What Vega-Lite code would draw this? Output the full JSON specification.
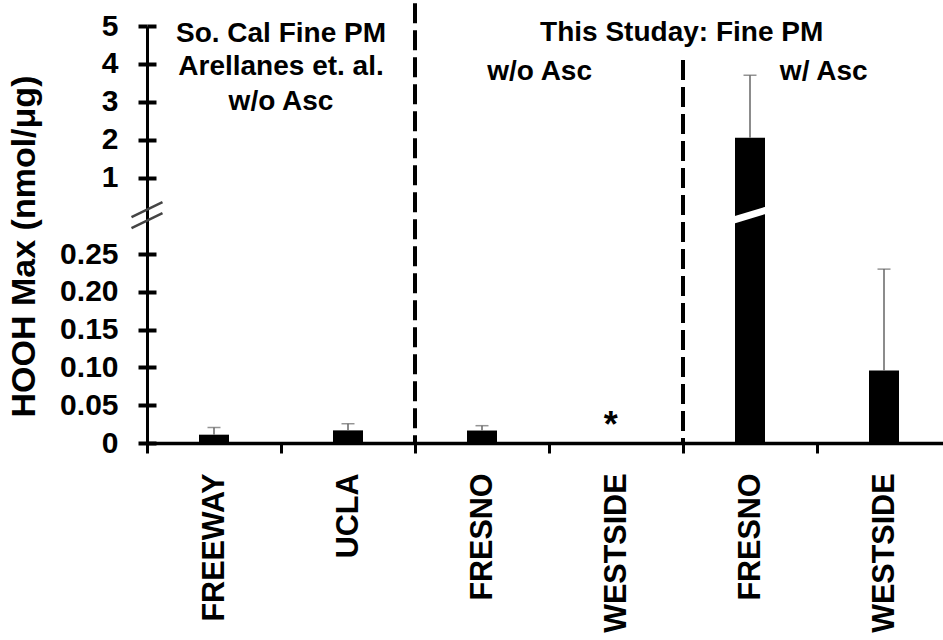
{
  "$schema": "https://vega.github.io/schema/vega-lite/v6.json",
  "width": 796,
  "height": 417,
  "autosize": {"type": "none"},
  "padding": {"left": 147, "top": 26, "right": 0, "bottom": 197},
  "background": "white",
  "config": {"view": {"stroke": null}, "font": "Liberation Sans"},
  "datasets": {
    "bars": [
      {"cat": "FREEWAY|a", "val": 0.011, "err": 0.0205},
      {"cat": "UCLA|a", "val": 0.0167, "err": 0.0255},
      {"cat": "FRESNO|b", "val": 0.0165, "err": 0.0229},
      {"cat": "WESTSIDE|b", "val": 0, "err": null},
      {"cat": "FRESNO|c", "val": 2.05, "err": 3.7},
      {"cat": "WESTSIDE|c", "val": 0.096, "err": 0.23}
    ],
    "notes": [
      {"label": "So. Cal Fine PM", "x": 1.0, "y": 4.58},
      {"label": "Arellanes et. al.", "x": 1.0, "y": 3.7},
      {"label": "w/o Asc", "x": 1.0, "y": 2.775},
      {"label": "This Studay: Fine PM", "x": 3.99, "y": 4.6},
      {"label": "w/o Asc", "x": 2.93, "y": 3.57},
      {"label": "w/ Asc", "x": 5.05, "y": 3.57}
    ],
    "star": [{"label": "*", "x": 3.46, "y": 0.0083}],
    "dividers": [
      {"x": 2, "top": 5.6, "bottom": 0},
      {"x": 4, "top": 4.1, "bottom": 0}
    ],
    "barbreak": [{"cat": "FRESNO|c", "y": 0.632}],
    "axisbreak": [{"x": 0, "y": 0.632}]
  },
  "resolve": {"scale": {"x": "independent"}, "axis": {"x": "independent", "y": "independent"}},
  "layer": [
    {
      "data": {"name": "bars"},
      "mark": {"type": "bar", "color": "black", "width": 30},
      "encoding": {
        "x": {
          "field": "cat", "type": "nominal",
          "scale": {"type": "band", "domain": ["FREEWAY|a", "UCLA|a", "FRESNO|b", "WESTSIDE|b", "FRESNO|c", "WESTSIDE|c"], "range": [0, 804], "paddingInner": 0, "paddingOuter": 0},
          "axis": {
            "title": null,
            "labelExpr": "isValid(datum.value) ? split(datum.value, '|')[0] : ''",
            "labelAngle": -90,
            "labelFont": "Liberation Sans",
            "labelFontWeight": "bold",
            "labelFontSize": 30.5,
            "labelColor": "black",
            "labelPadding": 20,
            "tickSize": 10,
            "tickWidth": 3,
            "tickColor": "black",
            "tickBand": "extent",
            "domainColor": "black",
            "domainWidth": 3.5,
            "grid": false
          }
        },
        "y": {
          "field": "val", "type": "quantitative",
          "scale": {"domain": [0, 0.25, 1, 5], "range": [417, 228, 151.5, 0], "nice": false, "zero": false},
          "axis": {
            "title": "HOOH Max (nmol/μg)",
            "values": [0, 0.05, 0.1, 0.15, 0.2, 0.25, 1, 2, 3, 4, 5],
            "labelExpr": "datum.value == 0 ? '0' : (datum.value < 0.5 ? format(datum.value, '.2f') : format(datum.value, 'd'))",
            "labelFont": "Liberation Sans",
            "labelFontWeight": "bold",
            "labelFontSize": 30,
            "labelColor": "black",
            "labelPadding": 20,
            "labelOverlap": false,
            "labelBound": false,
            "labelFlush": false,
            "tickSize": 9,
            "tickWidth": 4,
            "tickColor": "black",
            "domainColor": "black",
            "domainWidth": 3,
            "grid": false,
            "titleFont": "Liberation Sans",
            "titleFontWeight": "bold",
            "titleFontSize": 34,
            "titleColor": "black",
            "titleAngle": -90,
            "titleX": -123,
            "titleY": 220,
            "titleAlign": "center",
            "titleBaseline": "middle"
          }
        }
      }
    },
    {
      "data": {"name": "bars"},
      "transform": [{"filter": "datum.err != null"}],
      "mark": {"type": "rule", "color": "#666666", "strokeWidth": 1.5},
      "encoding": {
        "x": {
          "field": "cat", "type": "nominal",
          "scale": {"type": "band", "domain": ["FREEWAY|a", "UCLA|a", "FRESNO|b", "WESTSIDE|b", "FRESNO|c", "WESTSIDE|c"], "range": [0, 804], "paddingInner": 0, "paddingOuter": 0},
          "axis": null
        },
        "y": {
          "field": "val", "type": "quantitative",
          "scale": {"domain": [0, 0.25, 1, 5], "range": [417, 228, 151.5, 0], "nice": false, "zero": false},
          "axis": {
            "orient": "left",
            "values": [0, 0.05, 0.1, 0.15, 0.2, 0.25, 1, 2, 3, 4, 5],
            "labels": false,
            "domain": false,
            "grid": false,
            "title": null,
            "tickSize": -9,
            "tickWidth": 4,
            "tickColor": "black"
          }
        },
        "y2": {"field": "err"}
      }
    },
    {
      "data": {"name": "bars"},
      "transform": [{"filter": "datum.err != null"}],
      "mark": {"type": "tick", "color": "#666666", "thickness": 1.5, "size": 13, "orient": "horizontal"},
      "encoding": {
        "x": {
          "field": "cat", "type": "nominal",
          "scale": {"type": "band", "domain": ["FREEWAY|a", "UCLA|a", "FRESNO|b", "WESTSIDE|b", "FRESNO|c", "WESTSIDE|c"], "range": [0, 804], "paddingInner": 0, "paddingOuter": 0},
          "axis": null
        },
        "y": {
          "field": "err", "type": "quantitative",
          "scale": {"domain": [0, 0.25, 1, 5], "range": [417, 228, 151.5, 0], "nice": false, "zero": false},
          "axis": null
        }
      }
    },
    {
      "data": {"name": "barbreak"},
      "mark": {"type": "point", "shape": "M-1,0.3L1,-0.3", "filled": false, "stroke": "white", "strokeWidth": 7, "size": 1340, "opacity": 1},
      "encoding": {
        "x": {
          "field": "cat", "type": "nominal",
          "scale": {"type": "band", "domain": ["FREEWAY|a", "UCLA|a", "FRESNO|b", "WESTSIDE|b", "FRESNO|c", "WESTSIDE|c"], "range": [0, 804], "paddingInner": 0, "paddingOuter": 0},
          "axis": null
        },
        "y": {
          "field": "y", "type": "quantitative",
          "scale": {"domain": [0, 0.25, 1, 5], "range": [417, 228, 151.5, 0], "nice": false, "zero": false},
          "axis": null
        }
      }
    },
    {
      "data": {"name": "dividers"},
      "mark": {"type": "rule", "color": "black", "strokeWidth": 4, "strokeDash": [20, 7]},
      "encoding": {
        "x": {"field": "x", "type": "quantitative", "scale": {"domain": [0, 6], "range": [0, 804], "nice": false, "zero": false}, "axis": null},
        "y": {
          "field": "top", "type": "quantitative",
          "scale": {"domain": [0, 0.25, 1, 5], "range": [417, 228, 151.5, 0], "nice": false, "zero": false},
          "axis": null
        },
        "y2": {"field": "bottom"}
      }
    },
    {
      "data": {"name": "notes"},
      "mark": {"type": "text", "font": "Liberation Sans", "fontWeight": "bold", "fontSize": 28, "align": "center", "baseline": "alphabetic", "color": "black"},
      "encoding": {
        "x": {"field": "x", "type": "quantitative", "scale": {"domain": [0, 6], "range": [0, 804], "nice": false, "zero": false}, "axis": null},
        "y": {
          "field": "y", "type": "quantitative",
          "scale": {"domain": [0, 0.25, 1, 5], "range": [417, 228, 151.5, 0], "nice": false, "zero": false},
          "axis": null
        },
        "text": {"field": "label"}
      }
    },
    {
      "data": {"name": "star"},
      "mark": {"type": "text", "font": "Liberation Sans", "fontWeight": "bold", "fontSize": 36, "align": "center", "baseline": "alphabetic", "color": "black"},
      "encoding": {
        "x": {"field": "x", "type": "quantitative", "scale": {"domain": [0, 6], "range": [0, 804], "nice": false, "zero": false}, "axis": null},
        "y": {
          "field": "y", "type": "quantitative",
          "scale": {"domain": [0, 0.25, 1, 5], "range": [417, 228, 151.5, 0], "nice": false, "zero": false},
          "axis": null
        },
        "text": {"field": "label"}
      }
    },
    {
      "data": {"name": "axisbreak"},
      "mark": {"type": "point", "shape": "M-1,0.13L1,-0.84M-1,0.84L1,-0.13", "filled": false, "stroke": "#444444", "strokeWidth": 2.5, "size": 961, "opacity": 1},
      "encoding": {
        "x": {"field": "x", "type": "quantitative", "scale": {"domain": [0, 6], "range": [0, 804], "nice": false, "zero": false}, "axis": null},
        "y": {
          "field": "y", "type": "quantitative",
          "scale": {"domain": [0, 0.25, 1, 5], "range": [417, 228, 151.5, 0], "nice": false, "zero": false},
          "axis": null
        }
      }
    }
  ]
}
